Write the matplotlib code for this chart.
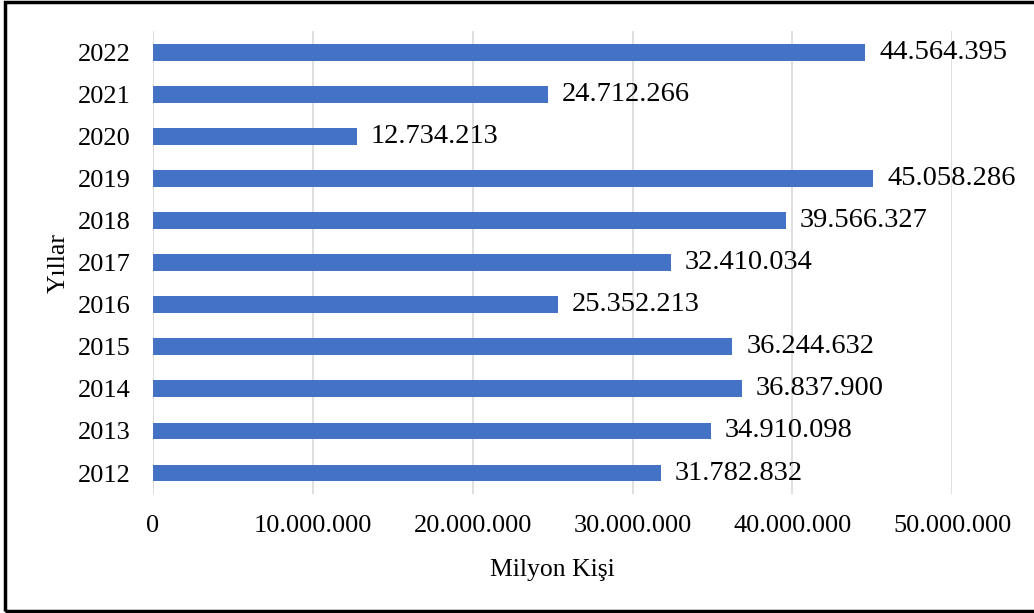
import matplotlib.pyplot as plt
from matplotlib.patches import Rectangle
from matplotlib.ticker import FuncFormatter

# --- veriler ---
years = ['2012', '2013', '2014', '2015', '2016', '2017',
         '2018', '2019', '2020', '2021', '2022']
visitors = [31782832, 34910098, 36837900, 36244632, 25352213, 32410034,
            39566327, 45058286, 12734213, 24712266, 44564395]
x_ticks = [0, 10000000, 20000000, 30000000, 40000000, 50000000]

bar_color = '#4472C4'
plt.rcParams['font.family'] = ['Liberation Serif', 'DejaVu Serif']


def dotted(v, pos=None):
    # Türkçe binlik ayırıcı (nokta)
    return f'{int(v):,}'.replace(',', '.')


fig = plt.figure(figsize=(10.34, 6.13), dpi=100)
ax = fig.add_axes((0.148, 0.194, 0.773, 0.755))

pos = range(len(years))
ax.barh(pos, visitors, height=0.4, color=bar_color, zorder=3)

for y, v in zip(pos, visitors):
    ax.annotate(dotted(v), (v, y), xytext=(10, 0), textcoords='offset points',
                va='center', ha='left', fontsize=20.5, annotation_clip=False)

ax.set_xlim(0, 50000000)
ax.set_ylim(-0.5, len(years) - 0.5)
ax.set_xticks(x_ticks)
ax.xaxis.set_major_formatter(FuncFormatter(dotted))
ax.set_yticks(list(pos))
ax.set_yticklabels(years)
ax.tick_params(axis='both', length=0, labelsize=19)
ax.tick_params(axis='x', pad=15)
ax.tick_params(axis='y', pad=16)
ax.grid(axis='x', color='#D9D9D9', linewidth=1.2, zorder=0)
for s in ax.spines.values():
    s.set_visible(False)

ax.set_xlabel('Milyon Kişi', fontsize=18.5, labelpad=16)
ax.set_ylabel('Yıllar', fontsize=18.5, labelpad=6)

# dış çerçeve (sağ kenar görüntü dışında kalıyor)
fig.patches.append(Rectangle((0.005, 0.003), 1.05, 0.994, transform=fig.transFigure,
                             fill=False, edgecolor='black', linewidth=2.5))

fig.savefig('out.png', dpi=100)
